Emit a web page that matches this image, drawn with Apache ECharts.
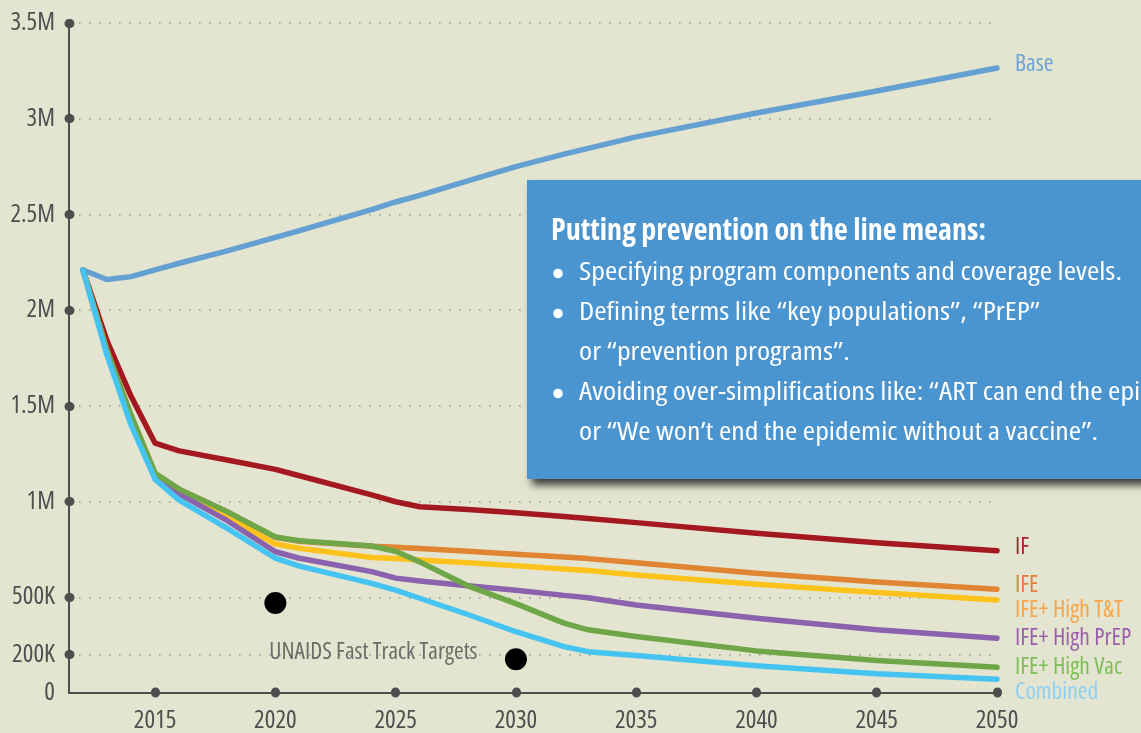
<!DOCTYPE html>
<html>
<head>
<meta charset="utf-8">
<script src="https://cdn.jsdelivr.net/npm/echarts@6/dist/echarts.min.js"></script>
<style>
html,body{margin:0;padding:0;background:#e4e5d1;}
#chart{width:1141px;height:733px;}
</style>
</head>
<body>
<div id="chart"></div>
<script>
// ---- data ----
const years = [2012, 2013, 2014, 2015, 2016, 2018, 2020, 2021, 2024, 2025, 2026, 2028, 2030, 2032, 2033, 2035, 2040, 2045, 2050];
const seriesNames = ['Base', 'IF', 'IFE', 'IFE+ High T&T', 'IFE+ High PrEP', 'IFE+ High Vac', 'Combined'];
const baseValues     = [2210000, 2160000, 2175000, 2210000, 2245000, 2310000, 2380000, 2415000, 2525000, 2565000, 2600000, 2675000, 2750000, 2815000, 2845000, 2905000, 3030000, 3145000, 3265000];
const ifValues       = [2210000, 1840000, 1550000, 1305000, 1265000, 1217000, 1168000, 1135000, 1035000, 999000, 973000, 958000, 942000, 922000, 912000, 890000, 835000, 785000, 743000];
const ifeValues      = [2210000, 1790000, 1450000, 1146000, 1063000, 945000, 813000, 793000, 766000, 762000, 755000, 740000, 725000, 710000, 702000, 680000, 625000, 580000, 542000];
const ttValues       = [2210000, 1780000, 1430000, 1140000, 1055000, 920000, 778000, 756000, 708000, 703000, 695000, 680000, 665000, 648000, 640000, 616000, 568000, 525000, 486000];
const prepValues     = [2210000, 1775000, 1420000, 1130000, 1040000, 900000, 738000, 704000, 634000, 600000, 585000, 560000, 537000, 510000, 498000, 460000, 390000, 330000, 286000];
const vacValues      = [2210000, 1790000, 1450000, 1148000, 1065000, 947000, 815000, 795000, 768000, 740000, 685000, 560000, 467000, 365000, 330000, 295000, 220000, 170000, 134000];
const combinedValues = [2210000, 1765000, 1400000, 1116000, 1008000, 860000, 704000, 663000, 573000, 537000, 495000, 410000, 320000, 242000, 216000, 196000, 142000, 100000, 72000];
const targetPoints = [[2020, 470000], [2030, 176000]];
const targetLabel = 'UNAIDS Fast Track Targets';
const targetLabelAnchor = [2019.75, 214000];
const xTickValues = [2015, 2020, 2025, 2030, 2035, 2040, 2045, 2050];
const yTickValues = [200000, 500000, 1000000, 1500000, 2000000, 2500000, 3000000, 3500000];
const yLabelValues = [0, 200000, 500000, 1000000, 1500000, 2000000, 2500000, 3000000, 3500000];
const yLabelTexts = ['0', '200K', '500K', '1M', '1.5M', '2M', '2.5M', '3M', '3.5M'];
const boxTitle = 'Putting prevention on the line means:';
const boxLines = [
  {bullet: true,  text: 'Specifying program components and coverage levels.'},
  {bullet: true,  text: 'Defining terms like \u201ckey populations\u201d, \u201cPrEP\u201d'},
  {bullet: false, text: 'or \u201cprevention programs\u201d.'},
  {bullet: true,  text: 'Avoiding over-simplifications like: \u201cART can end the epidemic\u201d'},
  {bullet: false, text: 'or \u201cWe won\u2019t end the epidemic without a vaccine\u201d.'}
];

// ---- font selection (prefer a condensed face) ----
function pickFont() {
  const c = document.createElement('canvas').getContext('2d');
  const sample = 'Specifying program 2015';
  const cands = ["'Noto Sans'", "'Open Sans'"];
  for (const fam of cands) {
    c.font = 'normal 20px ' + fam;
    const wn = c.measureText(sample).width;
    c.font = 'condensed 20px ' + fam;
    const wc = c.measureText(sample).width;
    if (wc < wn * 0.9) return {family: fam, style: 'condensed', cond: true};
  }
  return {family: "'DejaVu Sans Condensed', sans-serif", style: 'normal', cond: false};
}
const F = pickFont();
const SZ = F.cond ? {axis: 25, end: 23.5, note: 23.4} : {axis: 21, end: 20, note: 20};
const measureCtx = document.createElement('canvas').getContext('2d');
function textWidth(txt, font) { measureCtx.font = font; return measureCtx.measureText(txt).width; }

// ---- styles ----
const allValues = [baseValues, ifValues, ifeValues, ttValues, prepValues, vacValues, combinedValues];
const lineColors = ['#64a0d2', '#a3191f', '#e08532', '#fdc31c', '#8b62ad', '#6fa647', '#45c4f2'];
const labelColors = ['#6aa3d8', '#a3262a', '#e07e3c', '#f6a54a', '#9b5fae', '#7cbf55', '#8ecff2'];
const labelOffsets = [[0, -4], [0, -3], [0, -4], [0, 10], [0, 0], [0, 0], [0, 13]];

const chart = echarts.init(document.getElementById('chart'));

const lineSeries = seriesNames.map((name, i) => ({
  name: name,
  type: 'line',
  data: years.map((y, j) => [y, allValues[i][j]]),
  symbol: 'none',
  smooth: false,
  z: 3 + i,
  lineStyle: {width: 5.5, color: lineColors[i], cap: 'round', join: 'round'},
  endLabel: {
    show: true,
    formatter: name,
    color: labelColors[i],
    fontFamily: F.family,
    fontStyle: F.style,
    fontSize: SZ.end,
    distance: 18,
    offset: labelOffsets[i]
  },
  silent: true
}));

// ---- text box graphics ----
const titleFont = F.style + ' bold 30px ' + F.family;
const bodyFont = F.style + ' normal 25px ' + F.family;
const titleScale = 435 / textWidth(boxTitle, titleFont);
const bodyScale = 543 / textWidth(boxLines[0].text, bodyFont);
const graphics = [];
graphics.push({
  type: 'rect',
  shape: {x: 527, y: 180, width: 700, height: 299},
  style: {fill: '#4a94d0', shadowBlur: 8, shadowOffsetX: 5, shadowOffsetY: 6, shadowColor: 'rgba(0,0,0,0.75)'},
  z: 100
});
graphics.push({
  type: 'text',
  x: 551, y: 231, scaleX: titleScale,
  style: {x: 0, y: 0, text: boxTitle, fill: '#ffffff', font: titleFont, verticalAlign: 'middle', align: 'left'},
  z: 101
});
boxLines.forEach((ln, k) => {
  const cy = 272.5 + k * 40;
  graphics.push({
    type: 'text',
    x: 579, y: cy, scaleX: bodyScale,
    style: {x: 0, y: 0, text: ln.text, fill: '#ffffff', font: bodyFont, verticalAlign: 'middle', align: 'left'},
    z: 101
  });
  if (ln.bullet) {
    graphics.push({
      type: 'circle',
      shape: {cx: 558, cy: cy + 1, r: 4.8},
      style: {fill: '#ffffff'},
      z: 101
    });
  }
});

const option = {
  backgroundColor: '#e4e5d1',
  animation: false,
  grid: {left: 69, right: 144, top: 23, bottom: 40, containLabel: false},
  xAxis: {
    type: 'value',
    min: 2011.42,
    max: 2050,
    axisLine: {show: true, lineStyle: {color: '#4e4e4e', width: 2}},
    axisTick: {show: true, customValues: xTickValues, length: 1, inside: true, lineStyle: {color: '#4e4e4e', width: 9, cap: 'round'}},
    axisLabel: {customValues: xTickValues, color: '#4e4e4e', fontFamily: F.family, fontStyle: F.style, fontSize: SZ.axis, margin: 15,
      formatter: function (v) { return String(v); }},
    splitLine: {show: false}
  },
  yAxis: {
    type: 'value',
    min: 0,
    max: 3500000,
    axisLine: {show: true, lineStyle: {color: '#4e4e4e', width: 2}},
    axisTick: {show: true, customValues: yTickValues, length: 1, inside: true, lineStyle: {color: '#4e4e4e', width: 9, cap: 'round'}},
    axisLabel: {
      customValues: yLabelValues,
      color: '#4e4e4e', fontFamily: F.family, fontStyle: F.style, fontSize: SZ.axis, margin: 14,
      formatter: function (v) {
        const idx = yLabelValues.indexOf(v);
        return idx >= 0 ? yLabelTexts[idx] : '';
      }
    },
    splitLine: {show: true, lineStyle: {color: '#9c9c94', width: 1.6, type: [1.6, 8.4]}}
  },
  series: lineSeries.concat([
    {
      name: 'targets',
      type: 'scatter',
      data: targetPoints,
      symbol: 'circle',
      symbolSize: 22,
      itemStyle: {color: '#000000', opacity: 1},
      z: 20,
      silent: true
    },
    {
      name: 'targetLabel',
      type: 'scatter',
      data: [targetLabelAnchor],
      symbolSize: 0,
      silent: true,
      label: {
        show: true,
        position: 'right',
        distance: 0,
        formatter: targetLabel,
        color: '#4e4e4e',
        fontFamily: F.family,
        fontStyle: F.style,
        fontSize: SZ.note
      },
      z: 20
    }
  ]),
  graphic: graphics
};
chart.setOption(option);
</script>
</body>
</html>
